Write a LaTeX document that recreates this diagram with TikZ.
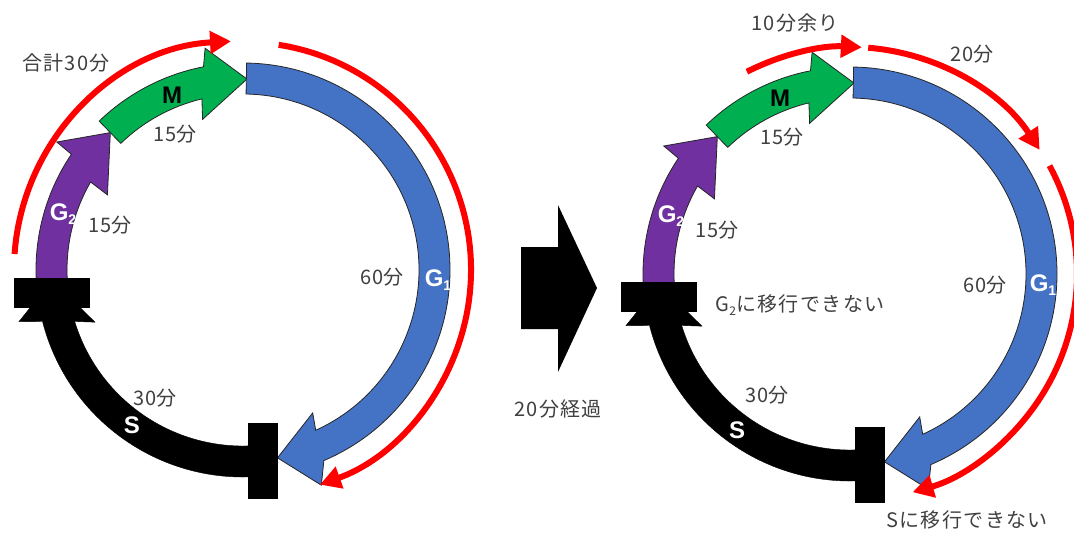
\documentclass[tikz,border=0pt]{standalone}
\usepackage{fontspec}
\setmainfont{Liberation Sans}
\newfontfamily\jp{Noto Sans CJK JP}
\newfontfamily\jpw[LetterSpace=7]{Noto Sans CJK JP}
\usetikzlibrary{arrows.meta}
\definecolor{txt}{HTML}{404040}
\definecolor{g2col}{HTML}{7030A0}
\definecolor{mcol}{HTML}{00B050}
\definecolor{g1col}{HTML}{4472C4}
\definecolor{redc}{HTML}{FF0000}
\newcommand{\lowidx}[1]{\raisebox{-0.35ex}{\fontsize{12}{12}\selectfont #1}}
\newcommand{\bigidx}[1]{\raisebox{-0.3ex}{\fontsize{14}{14}\selectfont #1}}
% #1 tail, #2 outer notch, #3 outer wing angle, #4 outer wing radius, #5 tip angle,
% #6 inner wing angle, #7 inner wing radius, #8 inner notch, #9 style
\newcommand{\cycarrow}[9]{%
  \path[#9] (#1:207) arc[start angle=#1, end angle=#2, radius=207]
    -- (#3:#4) -- (#5:191) -- (#6:#7) -- (#8:176)
    arc[start angle=#8, end angle=#1, radius=176] -- cycle;}
\tikzset{
  edge/.style={draw=black!85, line width=0.8pt, line join=miter},
  lbl/.style={font=\jp\fontsize{20}{24}\selectfont, text=txt, inner sep=0pt},
  wlbl/.style={font=\jpw\fontsize{20}{24}\selectfont, text=txt, inner sep=0pt},
  phase/.style={font=\bfseries\fontsize{24}{26}\selectfont, text=white, inner sep=0pt},
  mlbl/.style={font=\bfseries\fontsize{24}{26}\selectfont, text=black, inner sep=0pt},
  redarc/.style={draw=redc, line width=6pt, -{Triangle[length=21pt,width=22pt]}},
}
\begin{document}
\begin{tikzpicture}[x=1pt,y=-1pt]
\useasboundingbox (0,0) rectangle (1074,533);
\fill[white] (0,0) rectangle (1074,533);
\foreach \cx/\cy in {243/270, 850/274} {
  \begin{scope}[shift={(\cx,\cy)}, yscale=-1]
    \cycarrow{183}{146}{145.5}{226}{134}{151}{155}{150}{fill=g2col, edge}
    \cycarrow{134}{101}{99.7}{225}{88.8}{105}{156}{103.5}{fill=mcol, edge}
    \cycarrow{89}{-67}{-70}{229}{-79.6}{-64}{159}{-65.6}{fill=g1col, edge}
    \cycarrow{-84}{-165.6}{-167}{230}{-177}{-160.6}{157}{-163}{fill=black, draw=black}
    \fill[black] (-229,-8) rectangle (-153,-38);
    \fill[black] (5,-153) rectangle (35,-229);
  \end{scope}
}
% red arcs, left
\begin{scope}[shift={(243,270)}, yscale=-1]
  \draw[redarc] (176:229) arc[start angle=176, end angle=93, radius=229];
  \draw[redarc] (81:228) arc[start angle=81, end angle=-70.3, radius=228];
\end{scope}
% red arcs, right
\begin{scope}[shift={(850,274)}, yscale=-1]
  \draw[redarc] (117:227) arc[start angle=117, end angle=87, radius=227];
  \draw[redarc] (85.4:227) arc[start angle=85.4, end angle=33, radius=226];
  \draw[redarc] (28.5:227) arc[start angle=28.5, end angle=-74, radius=227];
\end{scope}
% middle arrow
\fill[black] (521,247) -- (558,247) -- (558,205) -- (597,288) -- (558,372) -- (558,329) -- (521,329) -- cycle;
\node[wlbl] (elapsed) at (558,409) {20分経過};
% left labels
\node[wlbl] (total) at (66,63) {合計30分};
\node[mlbl] (mL) at (172,95) {M};
\node[lbl] (mtL) at (175,134) {15分};
\node[phase] (g2L) at (63,214) {G\bigidx{2}};
\node[lbl] (g2tL) at (110,225) {15分};
\node[lbl] (g1tL) at (382,277) {60分};
\node[phase] (g1L) at (438,280) {G\bigidx{1}};
\node[lbl] (stL) at (155,398) {30分};
\node[phase] (sL) at (132,425) {S};
% right labels
\node[wlbl] (rest) at (795,23) {10分余り};
\node[mlbl] (mR) at (780,98) {M};
\node[lbl] (mtR) at (782,137) {15分};
\node[phase] (g2R) at (671,216) {G\bigidx{2}};
\node[lbl] (g2tR) at (717,230) {15分};
\node[wlbl] (nog2) at (800,305) {G\lowidx{2}に移行できない};
\node[lbl] (t20) at (972,54) {20分};
\node[lbl] (g1tR) at (985,285) {60分};
\node[phase] (g1R) at (1043,285) {G\bigidx{1}};
\node[lbl] (stR) at (767,395) {30分};
\node[phase] (sR) at (737,430) {S};
\node[wlbl] (nos) at (967,520) {Sに移行できない};
\end{tikzpicture}
\end{document}
